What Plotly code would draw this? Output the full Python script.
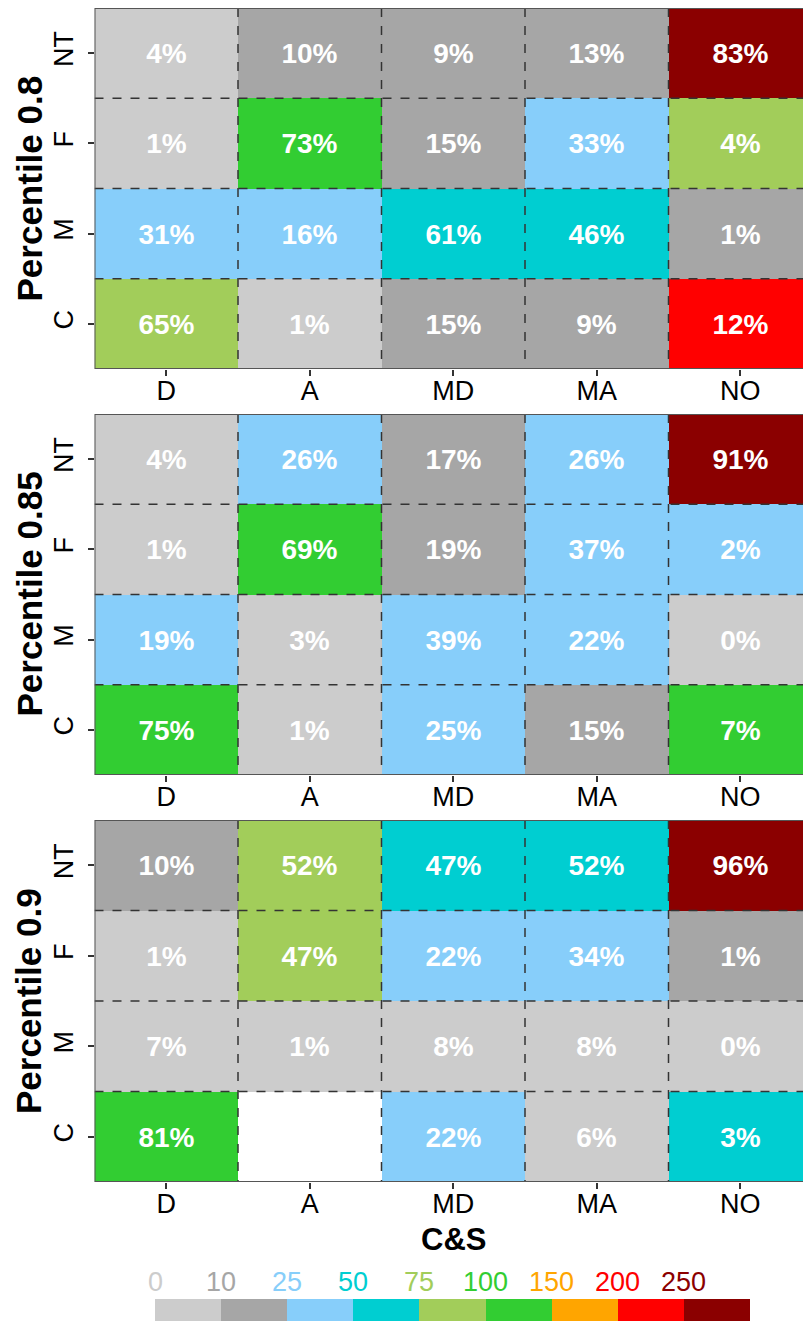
import plotly.graph_objects as go

cols = ["D", "A", "MD", "MA", "NO"]
rows = ["NT", "F", "M", "C"]
levels = [0, 10, 25, 50, 75, 100, 150, 200, 250]
level_colors = ["#CCCCCC", "#A6A6A6", "#87CEFA", "#00CED1", "#A2CD5A",
                "#32CD32", "#FFA500", "#FF0000", "#8B0000"]
panel_titles = ["Percentile 0.8", "Percentile 0.85", "Percentile 0.9"]
x_title = "C&S"

p80_level = [[0, 10, 10, 10, 250],
             [0, 100, 10, 25, 75],
             [25, 25, 50, 50, 10],
             [75, 0, 10, 10, 200]]
p80_pct = [[4, 10, 9, 13, 83],
           [1, 73, 15, 33, 4],
           [31, 16, 61, 46, 1],
           [65, 1, 15, 9, 12]]

p85_level = [[0, 25, 10, 25, 250],
             [0, 100, 10, 25, 25],
             [25, 0, 25, 25, 0],
             [100, 0, 25, 10, 100]]
p85_pct = [[4, 26, 17, 26, 91],
           [1, 69, 19, 37, 2],
           [19, 3, 39, 22, 0],
           [75, 1, 25, 15, 7]]

p90_level = [[10, 75, 50, 50, 250],
             [0, 75, 25, 25, 10],
             [0, 0, 0, 0, 0],
             [100, None, 25, 0, 50]]
p90_pct = [[10, 52, 47, 52, 96],
           [1, 47, 22, 34, 1],
           [7, 1, 8, 8, 0],
           [81, None, 22, 6, 3]]

panels = [(p80_level, p80_pct), (p85_level, p85_pct), (p90_level, p90_pct)]

W, H = 803, 1321


def px_x(p):
    return p / W


def px_y(p):
    return 1 - p / H


n = len(levels)
cscale = []
for i, c in enumerate(level_colors):
    cscale.append([i / n, c])
    cscale.append([(i + 1) / n, c])

FONT = "Liberation Sans, Arial, sans-serif"
fig = go.Figure()

panel_px = [(8, 369), (414, 775), (820, 1182)]
left_px = 94.5
col_w = 143.5
x_right = -0.5 + (W - left_px) / col_w

shapes = []
annotations = []
for k, ((lv, pc), (top, bot)) in enumerate(zip(panels, panel_px)):
    idx = k + 1
    xa = "x" if idx == 1 else f"x{idx}"
    ya = "y" if idx == 1 else f"y{idx}"
    z = [[None if v is None else levels.index(v) for v in r] for r in lv]
    txt = [["" if v is None else f"{v}%" for v in r] for r in pc]
    fig.add_trace(go.Heatmap(
        x=cols, y=rows, z=z, text=txt, texttemplate="%{text}",
        textfont=dict(color="white", size=28, family=FONT, weight="bold"),
        colorscale=cscale, zmin=-0.5, zmax=n - 0.5, showscale=False,
        xaxis=xa, yaxis=ya, hoverinfo="skip"))
    xkey = "xaxis" if idx == 1 else f"xaxis{idx}"
    ykey = "yaxis" if idx == 1 else f"yaxis{idx}"
    fig.update_layout({
        xkey: dict(domain=[px_x(left_px), 1], range=[-0.5, x_right],
                   anchor=ya, ticks="outside", ticklen=6, tickwidth=1.5,
                   tickcolor="#333", showgrid=False, zeroline=False,
                   ticklabelstandoff=-8,
                   tickfont=dict(size=27, family=FONT, color="black")),
        ykey: dict(domain=[px_y(bot), px_y(top)], range=[3.5, -0.5],
                   anchor=xa, ticks="outside", ticklen=6, tickwidth=1.5,
                   tickcolor="#333", tickangle=-90, showgrid=False,
                   zeroline=False, ticklabelstandoff=4,
                   tickfont=dict(size=27, family=FONT, color="black")),
    })
    annotations.append(dict(x=px_x(29), y=(px_y(bot) + px_y(top)) / 2,
                            xref="paper", yref="paper", textangle=-90,
                            text=f"<b>{panel_titles[k]}</b>", showarrow=False,
                            xanchor="center", yanchor="middle",
                            font=dict(size=35, family=FONT, color="black")))
    for j in range(len(cols) - 1):
        shapes.append(dict(type="line", xref=xa, yref=ya, x0=j + 0.5, x1=j + 0.5,
                           y0=-0.5, y1=len(rows) - 0.5, layer="above",
                           line=dict(color="#333", width=1.5, dash="dash")))
    for i in range(len(rows) - 1):
        shapes.append(dict(type="line", xref=xa, yref=ya, x0=-0.5, x1=len(cols) - 0.5,
                           y0=i + 0.5, y1=i + 0.5, layer="above",
                           line=dict(color="#333", width=1.5, dash="dash")))
    shapes.append(dict(type="rect", xref=xa, yref=ya, x0=-0.5, x1=len(cols) - 0.5,
                       y0=-0.5, y1=len(rows) - 0.5, layer="above",
                       line=dict(color="#555", width=2)))

annotations.append(dict(x=2, y=px_y(1239), xref="x3", yref="paper",
                        text=f"<b>{x_title}</b>", showarrow=False,
                        xanchor="center", yanchor="middle",
                        font=dict(size=31, family=FONT, color="black")))

# colour legend
fig.add_trace(go.Heatmap(
    x=list(range(n)), y=[0], z=[list(range(n))], colorscale=cscale,
    zmin=-0.5, zmax=n - 0.5, showscale=False, xaxis="x4", yaxis="y4",
    hoverinfo="skip"))
fig.update_layout(
    xaxis4=dict(domain=[px_x(155), px_x(750)], range=[-0.5, n - 0.5], anchor="y4",
                visible=False),
    yaxis4=dict(domain=[0, px_y(1299)], range=[-0.5, 0.5], anchor="x4", visible=False),
)
for i, (lvl, c) in enumerate(zip(levels, level_colors)):
    annotations.append(dict(x=i - 0.5, y=px_y(1282), xref="x4", yref="paper",
                            text=str(lvl), showarrow=False, xanchor="center",
                            yanchor="middle",
                            font=dict(size=27, family=FONT, color=c)))

fig.update_layout(
    width=W, height=H, margin=dict(l=0, r=0, t=0, b=0),
    paper_bgcolor="white", plot_bgcolor="white",
    shapes=shapes, annotations=annotations, showlegend=False,
)
fig.write_html("out.html", config={"displayModeBar": False},
               post_script="document.body.style.margin='0';"
                           "document.body.style.overflow='hidden';")
